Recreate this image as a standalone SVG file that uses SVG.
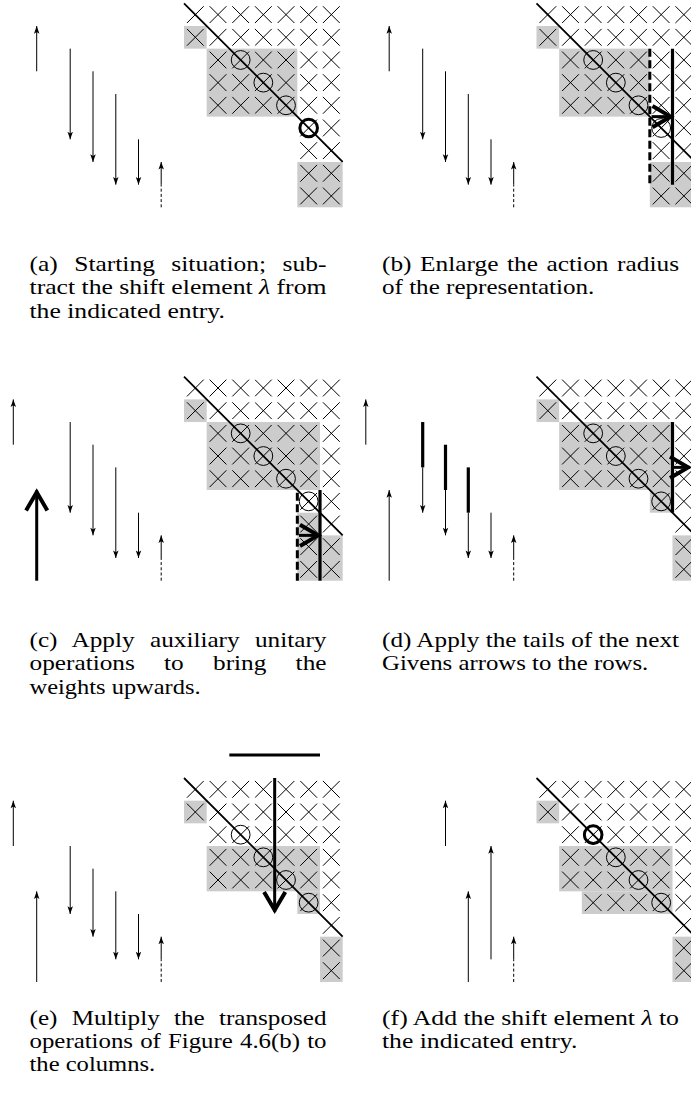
<svg xmlns="http://www.w3.org/2000/svg" xmlns:xlink="http://www.w3.org/1999/xlink" width="691" height="1097" viewBox="0 0 691 1097">
<style>
.g{fill:#cccccc}
.o{fill:none;stroke:#000;stroke-width:1}
.ob{fill:none;stroke:#000;stroke-width:3}
.diag{stroke:#000;stroke-width:1.8}
.ar{stroke:#000;stroke-width:1;marker-end:url(#ah)}
.dl{stroke:#000;stroke-width:1;stroke-dasharray:3 2.2}
.tk{stroke:#000;stroke-width:3.2}
.td{stroke:#000;stroke-width:3;stroke-dasharray:8 3.5}
.big{stroke:#000;stroke-width:3;marker-end:url(#chev)}
.cap{font-family:"Liberation Serif","Times New Roman",serif;font-size:21.5px;fill:#000}
</style>
<defs>
  <marker id="ah" markerUnits="userSpaceOnUse" markerWidth="12" markerHeight="12" viewBox="-9 -5 11 10" refX="0" refY="0" orient="auto" overflow="visible">
    <path d="M0,0 L-7,-2.5 L-5.4,0 L-7,2.5 Z" fill="#000"/>
  </marker>
  <marker id="chev" markerUnits="userSpaceOnUse" markerWidth="30" markerHeight="30" viewBox="-20 -12 24 24" refX="0" refY="0" orient="auto" overflow="visible">
    <path d="M-16,-8.5 L-1.5,0 L-16,8.5" fill="none" stroke="#000" stroke-width="3.2"/>
  </marker>
  <path id="x" d="M-8.4,-8.4L8.4,8.4M-8.4,8.4L8.4,-8.4" fill="none" stroke="#000" stroke-width="1"/>
  <line id="diag" class="diag" x1="0" y1="0" x2="158.67" y2="158.67"/>
  <!-- rows 0-4 of the matrix, shared by every panel -->
  <g id="mtop">
    <rect class="g" x="0" y="22.67" width="22.67" height="22.67"/>
    <use href="#x" x="11.33" y="11.33"/><use href="#x" x="34" y="11.33"/><use href="#x" x="56.67" y="11.33"/><use href="#x" x="79.33" y="11.33"/><use href="#x" x="102" y="11.33"/><use href="#x" x="124.67" y="11.33"/><use href="#x" x="147.33" y="11.33"/>
    <use href="#x" x="11.33" y="34"/><use href="#x" x="34" y="34"/><use href="#x" x="56.67" y="34"/><use href="#x" x="79.33" y="34"/><use href="#x" x="102" y="34"/><use href="#x" x="124.67" y="34"/><use href="#x" x="147.33" y="34"/>
    <use href="#x" x="34" y="56.67"/><use href="#x" x="56.67" y="56.67"/><use href="#x" x="79.33" y="56.67"/><use href="#x" x="102" y="56.67"/><use href="#x" x="124.67" y="56.67"/><use href="#x" x="147.33" y="56.67"/>
    <use href="#x" x="34" y="79.33"/><use href="#x" x="56.67" y="79.33"/><use href="#x" x="79.33" y="79.33"/><use href="#x" x="102" y="79.33"/><use href="#x" x="124.67" y="79.33"/><use href="#x" x="147.33" y="79.33"/>
    <use href="#x" x="34" y="102"/><use href="#x" x="56.67" y="102"/><use href="#x" x="79.33" y="102"/><use href="#x" x="102" y="102"/><use href="#x" x="124.67" y="102"/><use href="#x" x="147.33" y="102"/>
    <circle class="o" cx="56.67" cy="56.67" r="9.4"/>
    <circle class="o" cx="79.33" cy="79.33" r="9.4"/>
    <circle class="o" cx="102" cy="102" r="9.4"/>
  </g>
  <!-- rows 5-8, two full columns -->
  <g id="lowA">
    <use href="#x" x="124.67" y="124.67"/><use href="#x" x="147.33" y="124.67"/>
    <use href="#x" x="124.67" y="147.33"/><use href="#x" x="147.33" y="147.33"/>
    <use href="#x" x="124.67" y="170"/><use href="#x" x="147.33" y="170"/>
    <use href="#x" x="124.67" y="192.67"/><use href="#x" x="147.33" y="192.67"/>
  </g>
  <!-- rows 5-8, last column only below the diagonal -->
  <g id="lowD">
    <use href="#x" x="124.67" y="124.67"/><use href="#x" x="147.33" y="124.67"/>
    <use href="#x" x="147.33" y="147.33"/>
    <use href="#x" x="147.33" y="170"/>
    <use href="#x" x="147.33" y="192.67"/>
  </g>
  <!-- Givens arrows 2..6 -->
  <g id="arrB">
    <line class="ar" x1="70.2" y1="48.63" x2="70.2" y2="139.3"/>
    <line class="ar" x1="93" y1="71.3" x2="93" y2="161.97"/>
    <line class="ar" x1="115.8" y1="93.97" x2="115.8" y2="184.63"/>
    <line class="ar" x1="138.5" y1="139.3" x2="138.5" y2="184.63"/>
    <line class="dl" x1="161.2" y1="207.3" x2="161.2" y2="184.63"/>
    <line class="ar" x1="161.2" y1="184.63" x2="161.2" y2="161.97"/>
  </g>
</defs>
<rect width="691" height="1097" fill="#fff"/>

<!-- (a) -->
<g id="panel-a">
  <g id="matrix-a" transform="translate(184,3.3)">
    <rect class="g" x="22.67" y="45.33" width="90.67" height="68"/>
    <rect class="g" x="113.33" y="158.67" width="45.33" height="45.33"/>
    <use href="#mtop"/>
    <use href="#lowA"/>
    <circle class="ob" cx="124.67" cy="124.67" r="8.8"/>
    <use href="#diag"/>
  </g>
  <g id="arrows-a">
    <line class="ar" x1="36.7" y1="71.3" x2="36.7" y2="26"/>
    <use href="#arrB"/>
  </g>
</g>

<!-- (b) -->
<g id="panel-b" transform="translate(352.5,0)">
  <g id="matrix-b" transform="translate(184,3.3)">
    <rect class="g" x="22.67" y="45.33" width="90.67" height="68"/>
    <rect class="g" x="113.33" y="158.67" width="45.33" height="45.33"/>
    <use href="#mtop"/>
    <use href="#lowA"/>
    <circle class="o" cx="124.67" cy="124.67" r="9.4"/>
    <use href="#diag"/>
    <line class="td" x1="113.33" y1="45.33" x2="113.33" y2="181.33"/>
    <line class="tk" x1="136" y1="45.33" x2="136" y2="181.33"/>
    <line class="big" x1="115" y1="113.33" x2="136" y2="113.33"/>
  </g>
  <g id="arrows-b">
    <line class="ar" x1="36.7" y1="71.3" x2="36.7" y2="26"/>
    <use href="#arrB"/>
  </g>
</g>

<!-- (c) -->
<g id="panel-c" transform="translate(0,373.4)">
  <g id="matrix-c" transform="translate(184,3.3)">
    <rect class="g" x="22.67" y="45.33" width="113.33" height="68"/>
    <rect class="g" x="113.33" y="136" width="22.67" height="68"/>
    <rect class="g" x="136" y="158.67" width="22.67" height="45.33"/>
    <use href="#mtop"/>
    <use href="#lowA"/>
    <circle class="o" cx="124.67" cy="124.67" r="9.4"/>
    <use href="#diag"/>
    <line class="td" x1="113.33" y1="116" x2="113.33" y2="204"/>
    <line class="tk" x1="136" y1="113.33" x2="136" y2="204"/>
    <line class="big" x1="115" y1="158.67" x2="136" y2="158.67"/>
  </g>
  <g id="arrows-c">
    <line class="ar" x1="13.3" y1="71.3" x2="13.3" y2="26"/>
    <line class="big" x1="36.7" y1="207.3" x2="36.7" y2="117"/>
    <use href="#arrB"/>
  </g>
</g>

<!-- (d) -->
<g id="panel-d" transform="translate(352.5,373.4)">
  <g id="matrix-d" transform="translate(184,3.3)">
    <rect class="g" x="22.67" y="45.33" width="113.33" height="68"/>
    <rect class="g" x="113.33" y="113.33" width="22.67" height="22.67"/>
    <rect class="g" x="136" y="158.67" width="22.67" height="45.33"/>
    <use href="#mtop"/>
    <use href="#lowD"/>
    <circle class="o" cx="124.67" cy="124.67" r="9.4"/>
    <use href="#diag"/>
    <line class="tk" x1="136" y1="45.33" x2="136" y2="136"/>
    <line class="big" x1="136" y1="90.67" x2="153.5" y2="90.67"/>
  </g>
  <g id="arrows-d">
    <line class="ar" x1="13.3" y1="71.3" x2="13.3" y2="26"/>
    <line class="ar" x1="36.7" y1="207.3" x2="36.7" y2="116.63"/>
    <line class="tk" x1="70.2" y1="48.63" x2="70.2" y2="93.97"/>
    <line class="ar" x1="70.2" y1="93.97" x2="70.2" y2="139.3"/>
    <line class="tk" x1="93" y1="71.3" x2="93" y2="116.63"/>
    <line class="ar" x1="93" y1="116.63" x2="93" y2="161.97"/>
    <line class="tk" x1="115.8" y1="93.97" x2="115.8" y2="139.3"/>
    <line class="ar" x1="115.8" y1="139.3" x2="115.8" y2="184.63"/>
    <line class="ar" x1="138.5" y1="139.3" x2="138.5" y2="184.63"/>
    <line class="dl" x1="161.2" y1="207.3" x2="161.2" y2="184.63"/>
    <line class="ar" x1="161.2" y1="184.63" x2="161.2" y2="161.97"/>
  </g>
</g>

<!-- (e) -->
<g id="panel-e" transform="translate(0,774.7)">
  <g id="matrix-e" transform="translate(184,3.3)">
    <rect class="g" x="22.67" y="68" width="113.33" height="45.33"/>
    <rect class="g" x="113.33" y="113.33" width="22.67" height="22.67"/>
    <rect class="g" x="136" y="158.67" width="22.67" height="45.33"/>
    <use href="#mtop"/>
    <use href="#lowD"/>
    <circle class="o" cx="124.67" cy="124.67" r="9.4"/>
    <use href="#diag"/>
    <line class="tk" x1="45.33" y1="-23" x2="136" y2="-23" stroke-width="3.4"/>
    <line class="big" x1="90.67" y1="0" x2="90.67" y2="134"/>
  </g>
  <g id="arrows-e">
    <line class="ar" x1="13.3" y1="71.3" x2="13.3" y2="26"/>
    <line class="ar" x1="36.7" y1="207.3" x2="36.7" y2="116.63"/>
    <line class="ar" x1="70.2" y1="71.3" x2="70.2" y2="139.3"/>
    <line class="ar" x1="93" y1="93.97" x2="93" y2="161.97"/>
    <line class="ar" x1="115.8" y1="116.63" x2="115.8" y2="184.63"/>
    <line class="ar" x1="138.5" y1="139.3" x2="138.5" y2="184.63"/>
    <line class="dl" x1="161.2" y1="207.3" x2="161.2" y2="184.63"/>
    <line class="ar" x1="161.2" y1="184.63" x2="161.2" y2="161.97"/>
  </g>
</g>

<!-- (f) -->
<g id="panel-f" transform="translate(352.5,774.7)">
  <g id="matrix-f" transform="translate(184,3.3)">
    <rect class="g" x="22.67" y="68" width="113.33" height="45.33"/>
    <rect class="g" x="45.33" y="113.33" width="90.67" height="22.67"/>
    <rect class="g" x="136" y="158.67" width="22.67" height="45.33"/>
    <use href="#mtop"/>
    <use href="#lowD"/>
    <use href="#x" x="56.67" y="124.67"/><use href="#x" x="79.33" y="124.67"/><use href="#x" x="102" y="124.67"/>
    <circle class="o" cx="124.67" cy="124.67" r="9.4"/>
    <circle class="ob" cx="56.67" cy="56.67" r="8.8"/>
    <use href="#diag"/>
  </g>
  <g id="arrows-f">
    <line class="ar" x1="93" y1="71.3" x2="93" y2="26"/>
    <line class="ar" x1="115.8" y1="207.3" x2="115.8" y2="116.63"/>
    <line class="ar" x1="138.5" y1="184.63" x2="138.5" y2="71.3"/>
    <line class="dl" x1="161.2" y1="207.3" x2="161.2" y2="184.63"/>
    <line class="ar" x1="161.2" y1="184.63" x2="161.2" y2="161.97"/>
  </g>
</g>

<!-- captions -->
<g id="captions" class="cap">
  <text x="29.5" y="271" textLength="297" lengthAdjust="spacingAndGlyphs" style="word-spacing:8.5px">(a) Starting situation; sub-</text>
  <text x="29.5" y="294.3" textLength="297" lengthAdjust="spacingAndGlyphs">tract the shift element <tspan font-style="italic">λ</tspan> from</text>
  <text x="29.5" y="317.6" textLength="195.4" lengthAdjust="spacingAndGlyphs">the indicated entry.</text>

  <text x="382" y="271" textLength="297" lengthAdjust="spacingAndGlyphs" style="word-spacing:1.9px">(b) Enlarge the action radius</text>
  <text x="382" y="294.3" textLength="212.3" lengthAdjust="spacingAndGlyphs">of the representation.</text>

  <text x="29.5" y="647" textLength="297" lengthAdjust="spacingAndGlyphs" style="word-spacing:7.7px">(c) Apply auxiliary unitary</text>
  <text x="29.5" y="670.3" textLength="297" lengthAdjust="spacingAndGlyphs" style="word-spacing:19.5px">operations to bring the</text>
  <text x="29.5" y="693.6" textLength="171.1" lengthAdjust="spacingAndGlyphs">weights upwards.</text>

  <text x="382" y="647" textLength="297" lengthAdjust="spacingAndGlyphs">(d) Apply the tails of the next</text>
  <text x="382" y="670.3" textLength="266.3" lengthAdjust="spacingAndGlyphs">Givens arrows to the rows.</text>

  <text x="29.5" y="1024.5" textLength="297" lengthAdjust="spacingAndGlyphs" style="word-spacing:6.8px">(e) Multiply the transposed</text>
  <text x="29.5" y="1047.8" textLength="297" lengthAdjust="spacingAndGlyphs" style="word-spacing:0.8px">operations of Figure 4.6(b) to</text>
  <text x="29.5" y="1071.1" textLength="125.7" lengthAdjust="spacingAndGlyphs">the columns.</text>

  <text x="382" y="1024.5" textLength="297" lengthAdjust="spacingAndGlyphs">(f) Add the shift element <tspan font-style="italic">λ</tspan> to</text>
  <text x="382" y="1047.8" textLength="195.4" lengthAdjust="spacingAndGlyphs">the indicated entry.</text>
</g>
</svg>
